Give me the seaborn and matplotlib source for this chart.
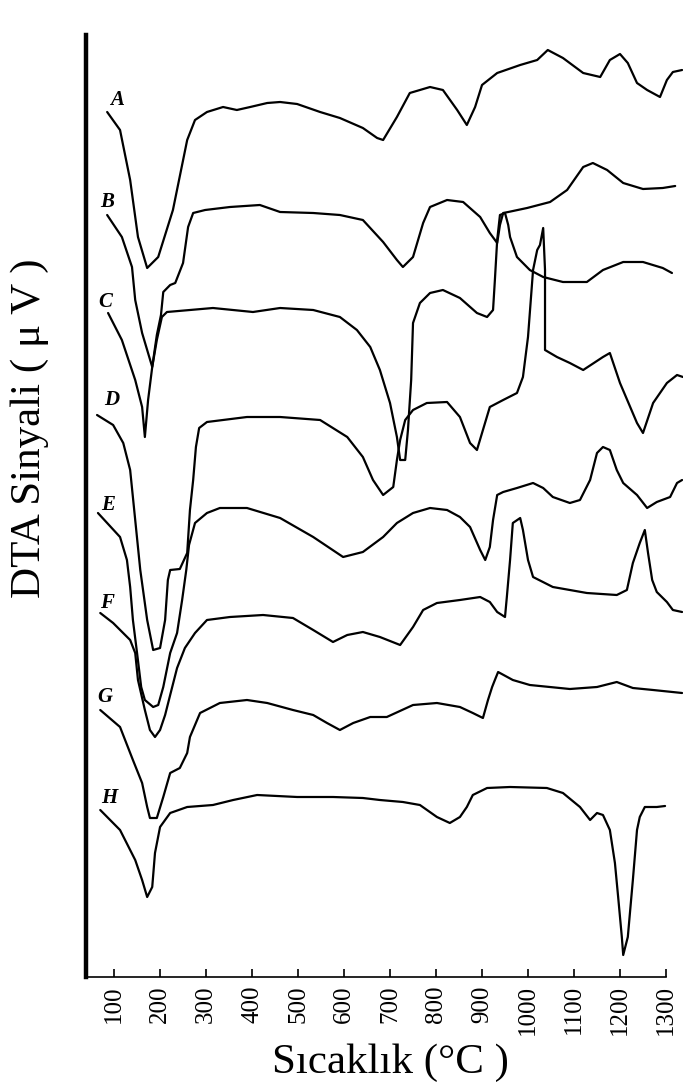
import matplotlib
matplotlib.use("Agg")
import matplotlib.pyplot as plt
import seaborn as sns
import pandas as pd

# DTA curves: temperature (°C) and signal (µV, offset per sample)
temp_a = [85, 113, 135, 152, 172, 196, 228, 259, 276, 302, 337, 367, 396, 433, 461, 498, 548, 591, 641, 672,
          685, 715, 743, 787, 815, 846, 867, 885, 900, 933, 983, 1020, 1043, 1076, 1120, 1157, 1178, 1200,
          1217, 1237, 1259, 1287, 1302, 1315, 1335]
sig_a = [86.5, 84.7, 79.7, 74.0, 70.9, 72.0, 76.7, 83.7, 85.7, 86.5, 87.0, 86.7, 87.0, 87.4, 87.5, 87.3, 86.5,
         85.9, 84.9, 83.9, 83.7, 86.0, 88.4, 89.0, 88.7, 86.7, 85.2, 87.0, 89.2, 90.4, 91.2, 91.7, 92.7, 91.9,
         90.4, 90.0, 91.7, 92.3, 91.4, 89.4, 88.7, 88.0, 89.7, 90.5, 90.7]

temp_b = [85, 117, 139, 146, 161, 183, 193, 202, 207, 222, 233, 250, 261, 272, 298, 352, 417, 461, 533, 591,
          641, 657, 685, 715, 728, 750, 772, 787, 824, 859, 896, 917, 933, 939, 946, 957, 998, 1048, 1085,
          1120, 1141, 1172, 1207, 1250, 1293, 1320]
sig_b = [76.2, 74.0, 71.0, 67.7, 64.4, 61.0, 64.2, 66.2, 68.5, 69.2, 69.4, 71.4, 75.0, 76.4, 76.7, 77.0, 77.2,
         76.5, 76.4, 76.2, 75.7, 74.9, 73.5, 71.7, 71.0, 72.0, 75.4, 77.0, 77.7, 77.5, 76.0, 74.4, 73.4, 75.2,
         76.4, 76.5, 76.9, 77.5, 78.7, 81.0, 81.4, 80.7, 79.4, 78.8, 78.9, 79.1]

temp_c = [87, 117, 146, 161, 167, 174, 183, 193, 204, 215, 315, 402, 461, 533, 591, 628, 657, 678, 700, 715,
          722, 733, 739, 746, 750, 765, 787, 815, 852, 889, 911, 924, 928, 933, 939, 950, 957, 961, 976, 1004,
          1033, 1076, 1128, 1163, 1207, 1250, 1293, 1313]
sig_c = [66.4, 63.7, 59.7, 57.0, 54.0, 57.7, 61.0, 63.7, 66.0, 66.5, 66.9, 66.5, 66.9, 66.7, 66.0, 64.7, 63.0,
         60.7, 57.4, 54.0, 51.7, 51.7, 54.7, 59.7, 65.4, 67.4, 68.4, 68.7, 67.9, 66.4, 66.0, 66.7, 69.7, 73.7,
         76.2, 76.4, 75.2, 74.0, 72.0, 70.7, 70.0, 69.5, 69.5, 70.7, 71.5, 71.5, 70.9, 70.4]

temp_d = [63, 98, 120, 135, 146, 157, 172, 185, 200, 211, 217, 222, 243, 259, 265, 272, 278, 285, 302, 389,
          461, 548, 607, 641, 663, 685, 707, 715, 722, 733, 750, 780, 824, 852, 874, 889, 902, 917, 946, 976,
          989, 1000, 1011, 1020, 1026, 1033, 1037, 1037, 1063, 1091, 1120, 1163, 1178, 1200, 1237, 1250,
          1272, 1302, 1324, 1337]
sig_d = [56.2, 55.2, 53.4, 50.7, 45.7, 40.7, 35.7, 32.7, 32.9, 35.7, 39.7, 40.7, 40.8, 42.4, 46.7, 49.7, 53.0,
         54.9, 55.5, 56.0, 56.0, 55.7, 54.0, 52.0, 49.7, 48.2, 49.0, 51.7, 53.7, 55.7, 56.7, 57.4, 57.5, 56.0,
         53.4, 52.7, 54.7, 57.0, 57.7, 58.4, 60.0, 64.0, 70.7, 72.7, 73.2, 74.9, 70.7, 62.7, 62.0, 61.4, 60.7,
         62.0, 62.4, 59.4, 55.4, 54.4, 57.4, 59.4, 60.2, 60.0]

temp_e = [65, 113, 128, 135, 141, 150, 159, 167, 185, 196, 207, 222, 237, 248, 257, 263, 276, 302, 330, 389,
          461, 533, 598, 641, 685, 715, 750, 787, 824, 852, 874, 896, 907, 917, 924, 933, 946, 976, 1011,
          1033, 1054, 1091, 1113, 1135, 1150, 1163, 1178, 1193, 1207, 1237, 1259, 1280, 1309, 1324, 1335]
sig_e = [46.4, 44.0, 41.7, 39.0, 35.7, 32.4, 29.0, 27.7, 27.0, 27.2, 29.0, 32.4, 34.4, 37.7, 40.7, 43.2, 45.4,
         46.4, 46.9, 46.9, 45.9, 44.0, 42.0, 42.5, 44.0, 45.4, 46.4, 46.9, 46.7, 46.0, 45.0, 42.7, 41.7, 43.0,
         45.7, 48.2, 48.5, 48.9, 49.4, 48.9, 48.0, 47.4, 47.7, 49.7, 52.4, 53.0, 52.7, 50.7, 49.4, 48.2, 46.9,
         47.5, 48.0, 49.4, 49.7]

temp_f = [70, 98, 135, 146, 152, 167, 178, 189, 200, 211, 222, 237, 254, 276, 302, 352, 424, 489, 533, 576,
          607, 641, 678, 722, 750, 772, 802, 852, 896, 917, 933, 950, 954, 961, 967, 983, 989, 1000, 1011,
          1054, 1128, 1193, 1215, 1228, 1243, 1254, 1261, 1270, 1280, 1302, 1315, 1335]
sig_f = [36.4, 35.4, 33.7, 32.4, 29.7, 26.7, 24.7, 24.0, 24.7, 26.2, 28.2, 30.9, 32.9, 34.4, 35.7, 36.0, 36.2,
         35.9, 34.7, 33.5, 34.2, 34.5, 34.0, 33.2, 35.0, 36.7, 37.4, 37.7, 38.0, 37.5, 36.5, 36.0, 38.0, 41.7,
         45.4, 45.9, 44.7, 41.7, 40.0, 39.0, 38.4, 38.2, 38.7, 41.4, 43.4, 44.7, 42.4, 39.7, 38.5, 37.5, 36.7,
         36.5]

temp_g = [70, 113, 141, 161, 172, 178, 193, 207, 222, 243, 259, 265, 287, 330, 389, 433, 489, 533, 563, 591,
          620, 657, 693, 750, 802, 852, 880, 902, 913, 922, 928, 935, 967, 1004, 1091, 1150, 1193, 1228, 1272,
          1335]
sig_g = [26.7, 25.0, 21.7, 19.4, 17.0, 15.9, 15.9, 18.0, 20.4, 20.9, 22.4, 24.0, 26.4, 27.4, 27.7, 27.4, 26.7,
         26.2, 25.4, 24.7, 25.4, 26.0, 26.0, 27.2, 27.4, 27.0, 26.4, 25.9, 27.7, 29.0, 29.7, 30.5, 29.7, 29.2,
         28.8, 29.0, 29.5, 28.9, 28.7, 28.4]

temp_h = [70, 113, 146, 161, 172, 183, 189, 200, 222, 259, 315, 359, 411, 498, 576, 641, 678, 728, 765, 802,
          830, 852, 867, 880, 911, 961, 1041, 1076, 1113, 1135, 1150, 1163, 1178, 1189, 1196, 1204, 1207, 1217,
          1228, 1237, 1243, 1254, 1280, 1298]
sig_h = [16.7, 14.7, 11.7, 9.7, 8.0, 9.0, 12.4, 15.0, 16.4, 17.0, 17.2, 17.7, 18.2, 18.0, 18.0, 17.9, 17.7,
         17.5, 17.2, 16.0, 15.4, 16.0, 17.0, 18.2, 18.9, 19.0, 18.9, 18.4, 17.0, 15.7, 16.4, 16.2, 14.7, 11.4,
         8.0, 4.0, 2.2, 4.0, 9.7, 14.7, 16.0, 17.0, 17.0, 17.1]

curve_names = ["A", "B", "C", "D", "E", "F", "G", "H"]
curve_temps = [temp_a, temp_b, temp_c, temp_d, temp_e, temp_f, temp_g, temp_h]
curve_sigs = [sig_a, sig_b, sig_c, sig_d, sig_e, sig_f, sig_g, sig_h]
# letter label anchor (°C, µV)
label_temp = [106, 85, 80, 96, 87, 85, 80, 89]
label_sig = [87.7, 77.5, 67.5, 57.7, 47.2, 37.4, 28.0, 17.9]

tick_values = [100, 200, 300, 400, 500, 600, 700, 800, 900, 1000, 1100, 1200, 1300]

sns.set_style("white")
plt.rcParams["font.family"] = ["Liberation Serif", "DejaVu Serif"]
plt.rcParams["text.color"] = "black"
plt.rcParams["axes.labelcolor"] = "black"
plt.rcParams["xtick.color"] = "black"

fig = plt.figure(figsize=(6.83, 10.88), dpi=100)
ax = fig.add_axes([86 / 683, 1 - 977 / 1088, 1 - 86 / 683, (977 - 35) / 1088])

for name, t, s in zip(curve_names, curve_temps, curve_sigs):
    df = pd.DataFrame({"temp": t, "sig": s})
    sns.lineplot(data=df, x="temp", y="sig", ax=ax, color="black", lw=1.6,
                 sort=False, estimator=None, solid_joinstyle="round")

for name, tx, sy in zip(curve_names, label_temp, label_sig):
    ax.text(tx, sy, name, fontsize=15, fontstyle="italic", fontweight="bold",
            ha="center", va="center", color="black")

ax.set_xlim(39, 1337)
ax.set_ylim(0, 94.2)

for side in ["top", "right"]:
    ax.spines[side].set_visible(False)
ax.spines["left"].set_linewidth(3.2)
ax.spines["left"].set_color("black")
ax.spines["bottom"].set_linewidth(1.2)
ax.spines["bottom"].set_color("black")
ax.spines["bottom"].set_bounds(39, 1300)

ax.set_xticks(tick_values)
ax.set_xticklabels([str(v) for v in tick_values], rotation=90, fontsize=18, color="black")
ax.tick_params(axis="x", direction="in", length=6, width=1.2, pad=6, bottom=True, colors="black")
ax.set_yticks([])

ax.set_xlabel("Sıcaklık (°C )", fontsize=31, va="center", color="black")
ax.xaxis.set_label_coords((390 - 86) / 597, (977 - 1063) / 942)
ax.set_ylabel("DTA Sinyali ( μ V )", fontsize=31, va="center", color="black")
ax.yaxis.set_label_coords((30 - 86) / 597, (977 - 428) / 942)

fig.savefig("out.png", dpi=100)
